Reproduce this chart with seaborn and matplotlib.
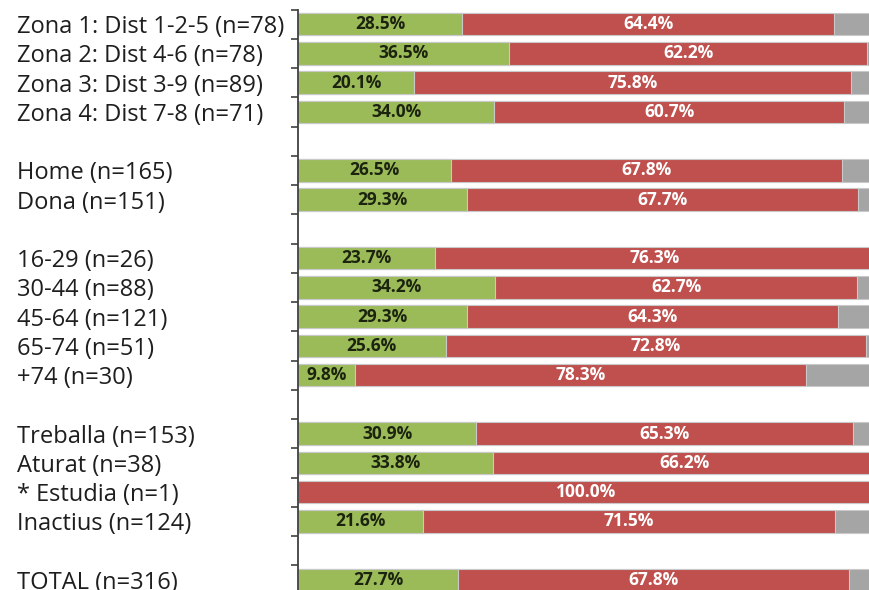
import matplotlib
matplotlib.use("Agg")
import matplotlib.pyplot as plt
import numpy as np
import pandas as pd
import seaborn as sns

# Survey breakdown by zone, sex, age, occupation and total
categories = [
    "Zona 1: Dist 1-2-5 (n=78)", "Zona 2: Dist 4-6 (n=78)",
    "Zona 3: Dist 3-9 (n=89)", "Zona 4: Dist 7-8 (n=71)",
    "Home (n=165)", "Dona (n=151)",
    "16-29 (n=26)", "30-44 (n=88)", "45-64 (n=121)", "65-74 (n=51)", "+74 (n=30)",
    "Treballa (n=153)", "Aturat (n=38)", "* Estudia (n=1)", "Inactius (n=124)",
    "TOTAL (n=316)",
]
group = [0, 0, 0, 0, 1, 1, 2, 2, 2, 2, 2, 3, 3, 3, 3, 4]
green = [28.5, 36.5, 20.1, 34.0, 26.5, 29.3, 23.7, 34.2, 29.3, 25.6, 9.8,
         30.9, 33.8, 0.0, 21.6, 27.7]
red = [64.4, 62.2, 75.8, 60.7, 67.8, 67.7, 76.3, 62.7, 64.3, 72.8, 78.3,
       65.3, 66.2, 100.0, 71.5, 67.8]

GREEN = "#9bbb59"
RED = "#c0504d"
GREY = "#a5a5a5"
EDGE = "#c9c9c9"

df = pd.DataFrame({"label": categories, "group": group,
                   "green": green, "red": red})
df["grey"] = (100 - df["green"] - df["red"]).clip(lower=0)
# one empty row between consecutive groups
df["pos"] = np.arange(len(df)) + df["group"]
df["cum_red"] = df["green"] + df["red"]
df["cum_grey"] = df["cum_red"] + df["grey"]
n_rows = int(df["pos"].max()) + 1

sns.set_style("white")
plt.rcParams["font.family"] = ["Open Sans", "DejaVu Sans"]

fig = plt.figure(figsize=(8.7, 5.9), dpi=100)
ax = fig.add_axes([298 / 870, 1 - 594.5 / 590, 577 / 870, 585 / 590])

bar_kw = dict(orient="y", native_scale=True, width=0.77,
              edgecolor=EDGE, linewidth=0.8, ax=ax)
sns.barplot(data=df, x="cum_grey", y="pos", color=GREY, saturation=1, **bar_kw)
sns.barplot(data=df, x="cum_red", y="pos", color=RED, saturation=1, **bar_kw)
sns.barplot(data=df[df["green"] > 0], x="green", y="pos", color=GREEN,
            saturation=1, **bar_kw)

for _, r in df.iterrows():
    if r["green"] > 0:
        ax.text(r["green"] / 2, r["pos"], f"{r['green']:.1f}%", ha="center",
                va="center", fontsize=12.5, fontweight="bold", color="#1c2410")
    if r["red"] > 0:
        ax.text(r["green"] + r["red"] / 2, r["pos"], f"{r['red']:.1f}%",
                ha="center", va="center", fontsize=12.5, fontweight="bold",
                color="white")

ax.set_xlim(0, 100)
ax.set_ylim(n_rows - 0.5, -0.5)
ax.set_xticks([])
ax.set_xlabel("")
ax.set_ylabel("")
ax.set_yticks(df["pos"], df["label"])
ax.set_yticks(np.arange(n_rows + 1) - 0.5, minor=True)
ax.tick_params(axis="y", which="major", length=0, pad=281 * 0.72,
               labelsize=17, labelcolor="#1e1e1e")
ax.tick_params(axis="y", which="minor", left=True, length=5, width=1.2,
               color="#404040", direction="out")
for t in ax.get_yticklabels():
    t.set_horizontalalignment("left")
for s in ("top", "right", "bottom"):
    ax.spines[s].set_visible(False)
ax.spines["left"].set_color("#404040")
ax.spines["left"].set_linewidth(1.3)

fig.savefig("out.png", dpi=100)
